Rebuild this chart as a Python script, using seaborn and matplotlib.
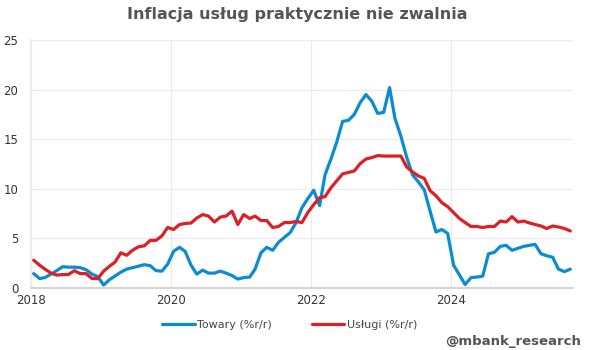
import numpy as np
import pandas as pd
import matplotlib
matplotlib.use("Agg")
import matplotlib.pyplot as plt
import matplotlib.dates as mdates
import seaborn as sns

title = "Inflacja usług praktycznie nie zwalnia"
series_names = ["Towary (%r/r)", "Usługi (%r/r)"]
start_month = "2018-01-01"

towary = [1.45, 0.95, 1.05, 1.4, 1.75, 2.15, 2.1, 2.1, 2.05, 1.85, 1.4, 1.15,
          0.3, 0.85, 1.2, 1.6, 1.9, 2.05, 2.2, 2.35, 2.25, 1.75, 1.7, 2.4,
          3.7, 4.1, 3.7, 2.3, 1.4, 1.8, 1.5, 1.5, 1.7, 1.5, 1.25, 0.9,
          1.05, 1.1, 1.9, 3.55, 4.1, 3.8, 4.6, 5.1, 5.6, 6.6, 8.1, 9.0,
          9.85, 8.3, 11.4, 13.0, 14.7, 16.8, 16.9, 17.5, 18.7, 19.5, 18.8, 17.6,
          17.7, 20.2, 17.1, 15.3, 13.2, 11.4, 10.7, 9.9, 7.7, 5.65, 5.9, 5.5,
          2.3, 1.3, 0.35, 1.05, 1.1, 1.2, 3.45, 3.6, 4.2, 4.3, 3.8, 4.0,
          4.2, 4.3, 4.4, 3.45, 3.25, 3.1, 1.9, 1.65, 1.9]

uslugi = [2.8, 2.3, 1.9, 1.5, 1.3, 1.35, 1.35, 1.75, 1.45, 1.45, 0.95, 0.95,
          1.7, 2.2, 2.6, 3.55, 3.3, 3.8, 4.15, 4.25, 4.8, 4.8, 5.25, 6.1,
          5.9, 6.4, 6.5, 6.55, 7.05, 7.4, 7.25, 6.65, 7.15, 7.25, 7.75, 6.4,
          7.4, 7.0, 7.25, 6.8, 6.8, 6.1, 6.2, 6.6, 6.6, 6.7, 6.6, 7.6,
          8.4, 9.1, 9.2, 10.1, 10.8, 11.5, 11.65, 11.8, 12.55, 13.0, 13.15, 13.35,
          13.3, 13.3, 13.3, 13.3, 12.2, 11.7, 11.3, 11.05, 9.8, 9.3, 8.6, 8.2,
          7.6, 7.0, 6.6, 6.2, 6.2, 6.1, 6.2, 6.2, 6.75, 6.65, 7.2, 6.65,
          6.75, 6.55, 6.4, 6.25, 6.0, 6.25, 6.15, 6.0, 5.75]

n = len(towary)
dates = pd.date_range(start_month, periods=n, freq="MS") + pd.Timedelta(days=14)
df = pd.concat([
    pd.DataFrame({"date": dates, "value": towary, "series": series_names[0]}),
    pd.DataFrame({"date": dates, "value": uslugi, "series": series_names[1]}),
])

sns.set_theme(style="white")
plt.rcParams["font.family"] = ["DejaVu Sans"]

fig = plt.figure(figsize=(5.95, 3.5), dpi=100)
ax = fig.add_axes([31 / 595, 1 - 288 / 350, (573 - 31) / 595, (288 - 40) / 350])

palette = {series_names[0]: "#0b8bd0", series_names[1]: "#dd1f26"}
sns.lineplot(data=df, x="date", y="value", hue="series", palette=palette,
             linewidth=2.3, ax=ax, legend=True)

ax.set_ylim(0, 25)
ax.set_yticks([0, 5, 10, 15, 20, 25])
ax.set_xlim(pd.Timestamp("2018-01-01"), pd.Timestamp("2025-09-29"))
ax.xaxis.set_major_locator(mdates.YearLocator(2))
ax.xaxis.set_major_formatter(mdates.DateFormatter("%Y"))
ax.grid(True, color="#ebebeb", linewidth=0.9)
ax.set_axisbelow(True)
for s in ["top", "right"]:
    ax.spines[s].set_visible(False)
ax.spines["left"].set_color("#ebebeb")
ax.spines["bottom"].set_color("#cccccc")
ax.spines["bottom"].set_linewidth(1.2)
ax.tick_params(axis="both", length=0, labelsize=8.5, colors="#333333")
ax.tick_params(axis="y", pad=9)
ax.tick_params(axis="x", pad=4)
ax.set_xlabel("")
ax.set_ylabel("")

handles, labels = ax.get_legend_handles_labels()
ax.legend_.remove()
fig.legend(handles, labels, loc="center", bbox_to_anchor=(290 / 595, 1 - 325 / 350),
           ncol=2, frameon=False, fontsize=8, labelcolor="#444444",
           handlelength=2.9, handletextpad=0.25, columnspacing=3.6)

fig.text(0.5, 1 - 14 / 350, title, ha="center", va="center",
         fontsize=11.5, fontweight="bold", color="#555555")
fig.text(581 / 595, 1 - 342 / 350, "@mbank_research", ha="right", va="center",
         fontsize=9.5, fontweight="bold", color="#555555")

fig.savefig("out.png", dpi=100, facecolor="white")
